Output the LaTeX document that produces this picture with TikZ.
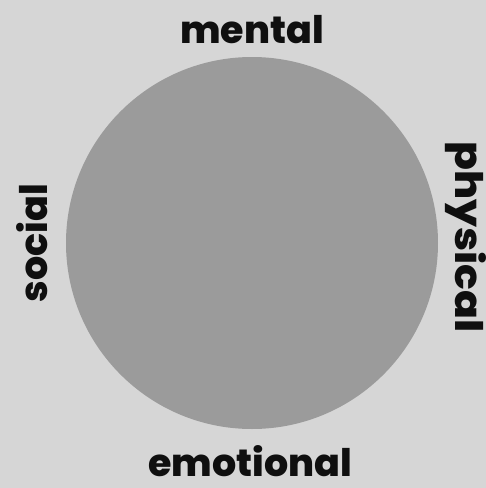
\documentclass[tikz,border=0pt]{standalone}
\usepackage{fontspec}
\setmainfont{Poppins}[BoldFont={* ExtraBold}]
\definecolor{bg}{RGB}{214,214,214}
\definecolor{disc}{RGB}{155,155,155}
\definecolor{ink}{RGB}{15,15,15}
\begin{document}
\begin{tikzpicture}[x=1pt,y=1pt,
  lab/.style={font=\bfseries\fontsize{38}{38}\selectfont, text=ink, inner sep=0pt, anchor=base}]
\fill[bg] (0,0) rectangle (486,-488);
\useasboundingbox (0,0) rectangle (486,-488);
\node[circle, fill=disc, minimum size=372pt, inner sep=0pt] (disc) at (252,-243) {};
\node[lab] (mental) at (252,-43) {mental};
\node[lab] (emotional) at (250,-476) {emotional};
\node[lab, rotate=90] (social) at (47,-243) {social};
\node[lab, rotate=-90, xscale=1.12] (physical) at (455,-237) {physical};
\end{tikzpicture}
\end{document}
